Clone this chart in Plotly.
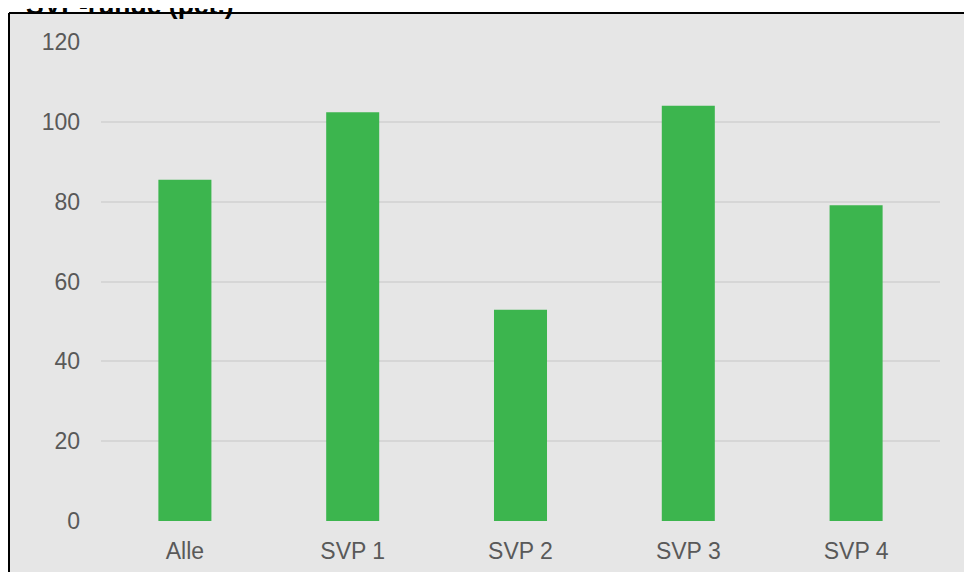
import plotly.graph_objects as go

categories = ["Alle", "SVP 1", "SVP 2", "SVP 3", "SVP 4"]
values = [85.5, 102.4, 52.9, 104.0, 79.1]
y_ticks = [0, 20, 40, 60, 80, 100, 120]
title_text = "SVP-runde (pct.)"

W, H = 964, 564
L, R, T, B = 93, 32, 34, 51
pw, ph = W - L - R, H - T - B

def px_x(x):
    return (x - L) / pw

def px_y(y):
    return (H - B - y) / ph

fig = go.Figure(go.Bar(
    x=categories, y=values,
    marker=dict(color="#3cb54e", line=dict(width=0)),
    width=0.316,
))

frame_left, frame_top, frame_right, frame_bottom = px_x(1), px_y(5), px_x(1000), px_y(600)

fig.update_layout(
    width=W, height=H,
    margin=dict(l=L, r=R, t=T, b=B, pad=0),
    paper_bgcolor="white",
    plot_bgcolor="rgba(0,0,0,0)",
    showlegend=False,
    font=dict(family="Liberation Sans, Arial, sans-serif", size=23, color="#595959"),
    xaxis=dict(showgrid=False, showline=False, zeroline=False, ticks="", automargin=False,
               ticklabelstandoff=14, tickfont=dict(size=23, color="#595959")),
    yaxis=dict(range=[0, 120], tickvals=y_ticks, showgrid=True, gridcolor="#d6d6d6",
               gridwidth=1.5, zeroline=False, showline=False, ticks="", automargin=False,
               ticklabelstandoff=20, tickfont=dict(size=23, color="#595959")),
    shapes=[
        dict(type="rect", xref="paper", yref="paper",
             x0=frame_left, x1=frame_right, y0=frame_bottom, y1=frame_top,
             fillcolor="#e6e6e6", line=dict(width=0), layer="below"),
        dict(type="line", xref="paper", yref="paper",
             x0=frame_left, x1=frame_right, y0=frame_top, y1=frame_top,
             line=dict(color="black", width=2), layer="below"),
        dict(type="line", xref="paper", yref="paper",
             x0=frame_left, x1=frame_left, y0=frame_bottom, y1=frame_top,
             line=dict(color="black", width=2), layer="below"),
    ],
    annotations=[dict(text="<b>" + title_text + "</b>", xref="paper", yref="paper",
                      x=px_x(16), y=px_y(-3), xanchor="left", yanchor="middle",
                      showarrow=False,
                      font=dict(family="Liberation Sans, Arial, sans-serif", size=26.5, color="black"))],
)

fig.write_html("out.html")
